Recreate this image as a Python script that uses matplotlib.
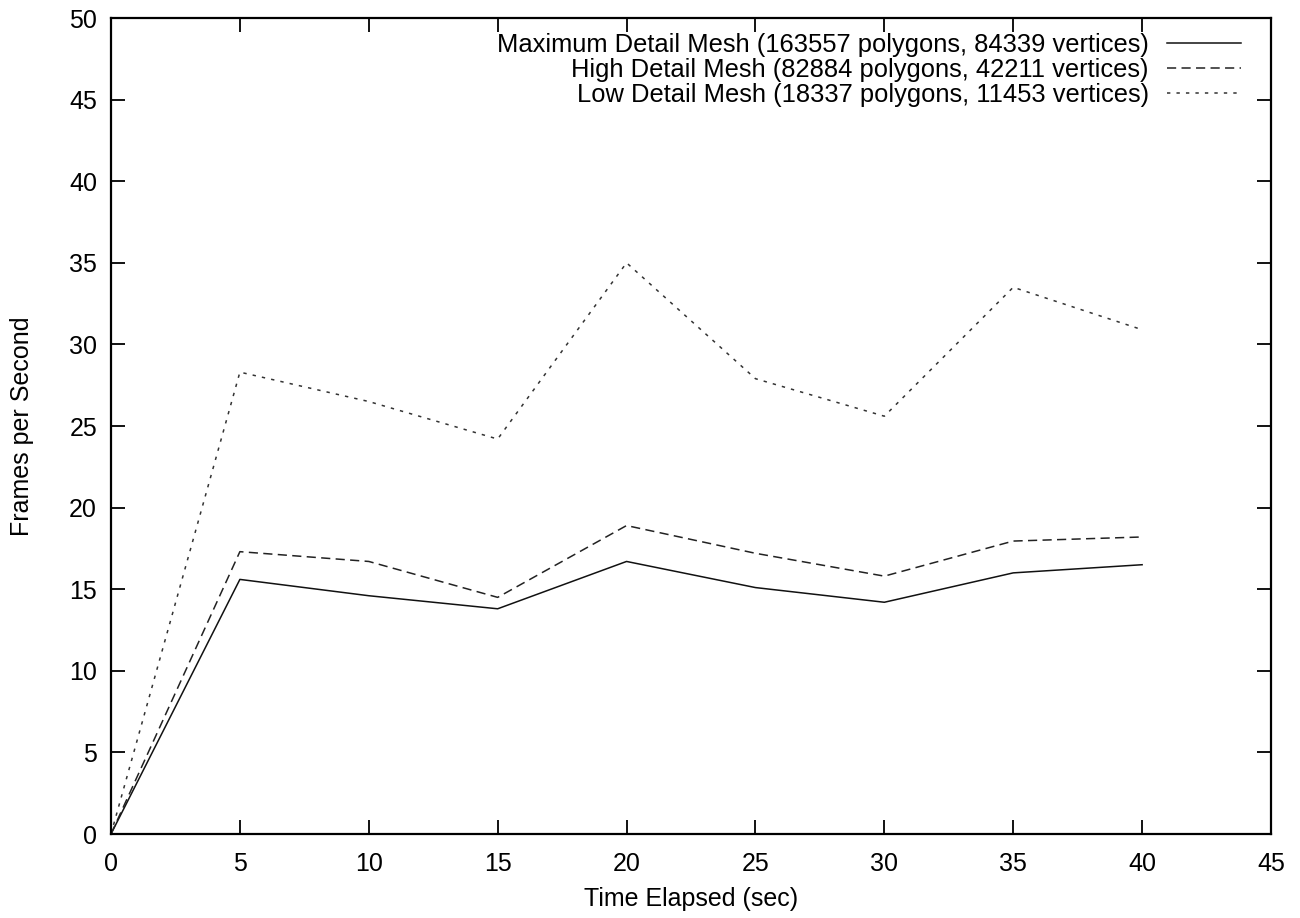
import matplotlib
matplotlib.use("Agg")
import matplotlib.pyplot as plt

time_sec = [0, 5, 10, 15, 20, 25, 30, 35, 40]
max_detail = [0, 15.6, 14.6, 13.8, 16.7, 15.1, 14.2, 16.0, 16.5]
high_detail = [0, 17.3, 16.7, 14.5, 18.9, 17.2, 15.8, 17.95, 18.2]
low_detail = [0, 28.3, 26.5, 24.2, 35.0, 27.9, 25.6, 33.5, 30.9]

labels = [
    "Maximum Detail Mesh (163557 polygons, 84339 vertices)",
    "High Detail Mesh (82884 polygons, 42211 vertices)",
    "Low Detail Mesh (18337 polygons, 11453 vertices)",
]
xticks = list(range(0, 50, 5))
yticks = list(range(0, 55, 5))

plt.rcParams['font.family'] = ['Liberation Sans', 'DejaVu Sans']

fig = plt.figure(figsize=(13, 9.18), dpi=100)
ax = fig.add_axes([111/1300, 1-834/918, (1271-111)/1300, (834-18)/918])

ax.plot(time_sec, max_detail, color='#111111', lw=1.1, ls='-', label=labels[0])
ax.plot(time_sec, high_detail, color='#222222', lw=1.1, ls=(0, (6, 3.5)), label=labels[1])
ax.plot(time_sec, low_detail, color='#333333', lw=1.1, ls=(0, (2.2, 4)), label=labels[2])

ax.set_xlim(0, 45)
ax.set_ylim(0, 50)
ax.set_xticks(xticks)
ax.set_yticks(yticks)
ax.tick_params(direction='in', length=10, width=1.3, top=True, right=True,
               labelsize=18)
ax.tick_params(axis='y', pad=10)
ax.tick_params(axis='x', pad=13)
for s in ax.spines.values():
    s.set_linewidth(1.6)

ax.set_xlabel("Time Elapsed (sec)", fontsize=18, labelpad=8)
ax.set_ylabel("Frames per Second", fontsize=18, labelpad=25)

leg = ax.legend(loc='upper right', bbox_to_anchor=(0.974, 0.9816),
                frameon=False, markerfirst=False, fontsize=18.4,
                handlelength=2.9, handletextpad=0.7,
                labelspacing=0.03, borderaxespad=0.0, borderpad=0.0)

fig.savefig("out.png", dpi=100)
